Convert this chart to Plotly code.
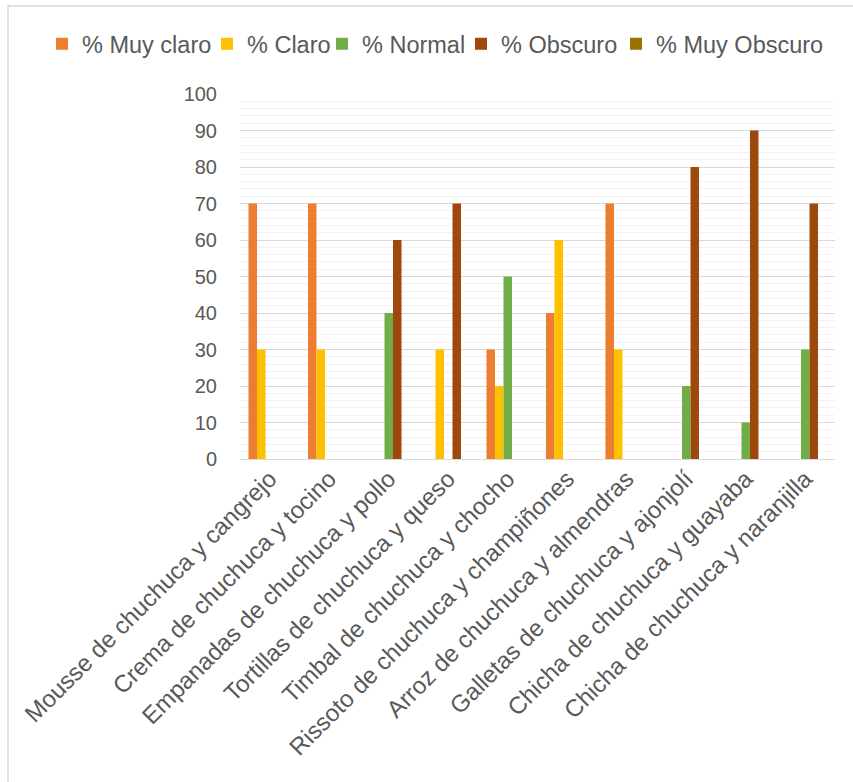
import plotly.graph_objects as go

categories = [
    "Mousse de chuchuca y cangrejo",
    "Crema de chuchuca y tocino",
    "Empanadas de chuchuca y pollo",
    "Tortillas de chuchuca y queso",
    "Timbal de chuchuca y chocho",
    "Rissoto de chuchuca y champiñones",
    "Arroz de chuchuca y almendras",
    "Galletas de chuchuca y ajonjolí",
    "Chicha de chuchuca y guayaba",
    "Chicha de chuchuca y naranjilla",
]
muy_claro = [70, 70, 0, 0, 30, 40, 70, 0, 0, 0]
claro = [30, 30, 0, 30, 20, 60, 30, 0, 0, 0]
normal = [0, 0, 40, 0, 50, 0, 0, 20, 10, 30]
obscuro = [0, 0, 60, 70, 0, 0, 0, 80, 90, 70]
muy_obscuro = [0, 0, 0, 0, 0, 0, 0, 0, 0, 0]

series = [
    ("% Muy claro", muy_claro, "#ED7D31"),
    ("% Claro", claro, "#FFC000"),
    ("% Normal", normal, "#70AD47"),
    ("% Obscuro", obscuro, "#9E480E"),
    ("% Muy Obscuro", muy_obscuro, "#997300"),
]
# legend text start pixel positions (layout)
legend_text_x = [82, 247, 362, 501, 656]

FONT = "Liberation Sans, Arial, sans-serif"
TXT = "#595959"

L, R, T, B = 240, 18, 94, 323
PW = 853 - L - R
PH = 782 - T - B

fig = go.Figure()
layout_legends = {}
for i, (name, vals, col) in enumerate(series):
    lg = "legend" if i == 0 else f"legend{i+1}"
    fig.add_trace(go.Bar(
        x=categories, y=vals, name=name, legend=lg,
        marker=dict(color=col, line=dict(width=0)),
    ))
    layout_legends[lg] = dict(
        orientation="h", x=(legend_text_x[i] - 40 - L) / PW, xanchor="left",
        y=(PH - (44 - T)) / PH, yanchor="middle",
        font=dict(size=23.5, color=TXT, family=FONT), itemwidth=30,
        bgcolor="rgba(0,0,0,0)", borderwidth=0,
    )

fig.update_layout(
    width=853, height=782,
    margin=dict(l=L, r=R, t=T, b=B, pad=0, autoexpand=False),
    paper_bgcolor="white", plot_bgcolor="white",
    barmode="group", bargap=0.285, bargroupgap=0,
    font=dict(family=FONT, color=TXT, size=20),
    xaxis=dict(
        type="category", tickangle=-45, showgrid=False, zeroline=False,
        showline=False, ticks="", tickfont=dict(size=24, color=TXT),
    ),
    yaxis=dict(
        range=[0, 100], dtick=10, showgrid=True, gridcolor="#D9D9D9", gridwidth=1,
        zeroline=True, zerolinecolor="#D9D9D9", zerolinewidth=1,
        showline=False, ticks="", tickfont=dict(size=20, color=TXT),
        ticklabelstandoff=22,
        minor=dict(dtick=2, showgrid=True, gridcolor="#F2F2F2", gridwidth=1),
    ),
    showlegend=True,
    **layout_legends,
)

# outer chart border
fig.add_shape(
    type="rect", xref="paper", yref="paper",
    x0=(8 - L) / PW, x1=(870 - L) / PW,
    y0=(PH + T - 800) / PH, y1=(PH + T - 6) / PH,
    line=dict(color="#D9D9D9", width=1.5), fillcolor="rgba(0,0,0,0)", layer="below",
)

fig.write_html("out.html")
